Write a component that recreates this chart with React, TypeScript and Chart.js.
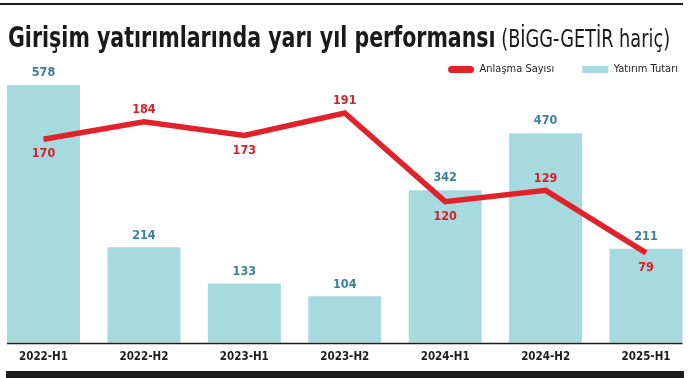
import { useEffect, useRef } from 'react';
import { Chart, registerables } from 'chart.js';

Chart.register(...registerables);

// ---- data ----
const periods = ['2022-H1', '2022-H2', '2023-H1', '2023-H2', '2024-H1', '2024-H2', '2025-H1'];
const investmentAmount = [578, 214, 133, 104, 342, 470, 211];
const dealCount = [170, 184, 173, 191, 120, 129, 79];
const dealLabelSide = ['below', 'above', 'below', 'above', 'below', 'above', 'below'];

const seriesNames = ['Anlaşma Sayısı', 'Yatırım Tutarı'];
const titleMain = 'Girişim yatırımlarında yarı yıl performansı';
const titleNote = '(BİGG-GETİR hariç)';

// ---- styles ----
const FONT = "'DejaVu Sans Condensed', 'DejaVu Sans', sans-serif";
const RED = '#e2222b';
const RED_LABEL = '#d8202b';
const BLUE = '#a7dadf';
const BLUE_LABEL = '#3a7f9e';
const DARK = '#1c1c1c';

const labelPlugin = {
  id: 'valueLabels',
  afterDatasetsDraw(chart: any) {
    const ctx = chart.ctx;
    const barMeta = chart.getDatasetMeta(1);
    const lineMeta = chart.getDatasetMeta(0);
    ctx.save();
    const first = barMeta.data[0];
    const last = barMeta.data[barMeta.data.length - 1];
    const yb = chart.chartArea.bottom + 0.75;
    ctx.strokeStyle = DARK;
    ctx.lineWidth = 1.5;
    ctx.beginPath();
    ctx.moveTo(first.x - first.width / 2, yb);
    ctx.lineTo(last.x + last.width / 2, yb);
    ctx.stroke();

    ctx.font = `bold 12.5px ${FONT}`;
    ctx.textAlign = 'center';
    ctx.textBaseline = 'middle';
    ctx.fillStyle = BLUE_LABEL;
    barMeta.data.forEach((el: any, i: number) => {
      ctx.fillText(String(investmentAmount[i]), el.x, el.y - 12);
    });
    ctx.fillStyle = RED_LABEL;
    lineMeta.data.forEach((el: any, i: number) => {
      const off = dealLabelSide[i] === 'above' ? -12 : 15;
      ctx.fillText(String(dealCount[i]), el.x, el.y + off);
    });
    ctx.restore();
  },
};

export default function App() {
  const canvasRef = useRef<HTMLCanvasElement | null>(null);

  useEffect(() => {
    const canvas = canvasRef.current;
    if (!canvas) return;
    const chart = new Chart(canvas, {
      type: 'bar',
      data: {
        datasets: [
          {
            type: 'line',
            label: seriesNames[0],
            data: dealCount.map((v, i) => ({ x: i, y: v })),
            borderColor: RED,
            backgroundColor: RED,
            borderWidth: 5.5,
            pointRadius: 0,
            tension: 0,
            borderCapStyle: 'butt',
            borderJoinStyle: 'miter',
            xAxisID: 'x',
            yAxisID: 'y2',
            order: 0,
          } as any,
          {
            type: 'bar',
            label: seriesNames[1],
            data: investmentAmount.map((v, i) => ({ x: i, y: v })),
            backgroundColor: BLUE,
            borderWidth: 0,
            categoryPercentage: 1,
            barPercentage: 0.727,
            xAxisID: 'x',
            yAxisID: 'y',
            order: 1,
          } as any,
        ],
      },
      options: {
        animation: false,
        responsive: false,
        maintainAspectRatio: false,
        layout: { padding: { top: 36, left: 0, right: -17, bottom: 7.5 } },
        scales: {
          x: {
            type: 'linear',
            offset: false,
            min: -0.4332,
            max: 6.428,
            grid: { display: false, drawTicks: false, offset: false },
            border: { display: false },
            ticks: {
              stepSize: 1,
              includeBounds: false,
              autoSkip: false,
              maxRotation: 0,
              padding: 7,
              color: DARK,
              font: { family: FONT, size: 11.5, weight: 'bold' },
              callback: (v: any) => (Number.isInteger(v) && periods[v] !== undefined ? periods[v] : ''),
            },
          },
          y: { display: false, min: 0, max: 578.1 },
          y2: { display: false, min: 7, max: 213.4 },
        },
        plugins: {
          title: { display: false },
          tooltip: { enabled: false },
          legend: {
            display: true,
            position: 'top',
            align: 'end',
            labels: {
              boxWidth: 26,
              boxHeight: 7,
              padding: 28,
              useBorderRadius: true,
              color: '#222',
              font: { family: FONT, size: 11 },
              generateLabels: (ch: any) =>
                ch.data.datasets.map((ds: any, i: number) => ({
                  text: ds.label,
                  fillStyle: i === 0 ? RED : BLUE,
                  strokeStyle: i === 0 ? RED : BLUE,
                  lineWidth: 0,
                  borderRadius: i === 0 ? 3.5 : 0,
                  fontColor: '#222',
                  hidden: false,
                  datasetIndex: i,
                })),
            },
          },
        },
      },
      plugins: [labelPlugin],
    });
    return () => chart.destroy();
  }, []);

  return (
    <div style={{ position: 'fixed', left: 0, top: 0, width: 689, height: 378, background: '#fff', overflow: 'hidden' }}>
      <canvas ref={canvasRef} width={689} height={378} style={{ position: 'absolute', left: 0, top: 0, width: 689, height: 378 }} />
      <div style={{ position: 'absolute', left: 0, top: 3, width: 683, height: 2, background: DARK }} />
      <div
        style={{
          position: 'absolute',
          left: 8,
          top: 22.5,
          whiteSpace: 'nowrap',
          lineHeight: 1,
          fontFamily: FONT,
          color: '#1a1a1a',
          transform: 'scaleX(0.788)',
          transformOrigin: '0 0',
        }}
      >
        <span style={{ fontSize: 29, fontWeight: 'bold' }}>{titleMain}</span>
        <span style={{ fontSize: 25, fontWeight: 'normal' }}> {titleNote}</span>
      </div>
      <div style={{ position: 'absolute', left: 6, top: 371, width: 678, height: 7, background: DARK }} />
    </div>
  );
}
